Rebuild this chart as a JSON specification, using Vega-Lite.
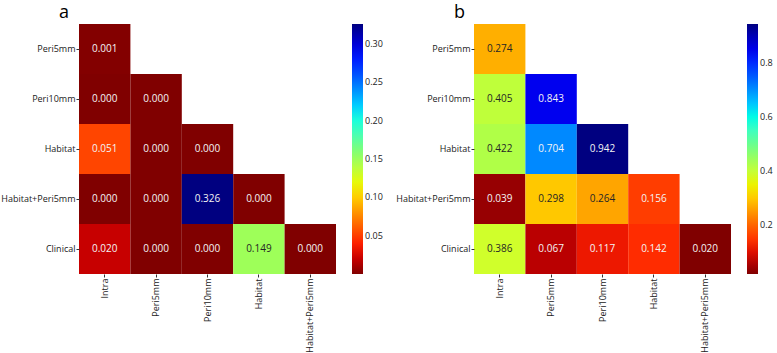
{
  "$schema": "https://vega.github.io/schema/vega-lite/v6.json",
  "padding": {"left": 0, "top": 4, "right": 0, "bottom": 0},
  "background": "white",
  "config": {
    "font": "Open Sans",
    "view": {"stroke": null},
    "axis": {"domain": false, "grid": false, "ticks": true, "tickSize": 3, "tickColor": "#333", "labelFontSize": 9, "labelColor": "#222", "labelPadding": 1, "title": null},
    "legend": {"gradientLength": 250, "gradientThickness": 11, "gradientStrokeWidth": 0, "labelFontSize": 9, "labelColor": "#222", "offset": 16, "padding": 0, "labelOffset": 5},
    "title": {"fontSize": 18, "fontWeight": "normal", "anchor": "start", "frame": "group", "dx": -20, "offset": 2, "color": "black"}
  },
  "datasets": {
    "a": [
      {"row": "Peri5mm", "col": "Intra", "value": 0.001},
      {"row": "Peri10mm", "col": "Intra", "value": 0.000},
      {"row": "Peri10mm", "col": "Peri5mm", "value": 0.000},
      {"row": "Habitat", "col": "Intra", "value": 0.051},
      {"row": "Habitat", "col": "Peri5mm", "value": 0.000},
      {"row": "Habitat", "col": "Peri10mm", "value": 0.000},
      {"row": "Habitat+Peri5mm", "col": "Intra", "value": 0.000},
      {"row": "Habitat+Peri5mm", "col": "Peri5mm", "value": 0.000},
      {"row": "Habitat+Peri5mm", "col": "Peri10mm", "value": 0.326},
      {"row": "Habitat+Peri5mm", "col": "Habitat", "value": 0.000},
      {"row": "Clinical", "col": "Intra", "value": 0.020},
      {"row": "Clinical", "col": "Peri5mm", "value": 0.000},
      {"row": "Clinical", "col": "Peri10mm", "value": 0.000},
      {"row": "Clinical", "col": "Habitat", "value": 0.149},
      {"row": "Clinical", "col": "Habitat+Peri5mm", "value": 0.000}
    ],
    "b": [
      {"row": "Peri5mm", "col": "Intra", "value": 0.274},
      {"row": "Peri10mm", "col": "Intra", "value": 0.405},
      {"row": "Peri10mm", "col": "Peri5mm", "value": 0.843},
      {"row": "Habitat", "col": "Intra", "value": 0.422},
      {"row": "Habitat", "col": "Peri5mm", "value": 0.704},
      {"row": "Habitat", "col": "Peri10mm", "value": 0.942},
      {"row": "Habitat+Peri5mm", "col": "Intra", "value": 0.039},
      {"row": "Habitat+Peri5mm", "col": "Peri5mm", "value": 0.298},
      {"row": "Habitat+Peri5mm", "col": "Peri10mm", "value": 0.264},
      {"row": "Habitat+Peri5mm", "col": "Habitat", "value": 0.156},
      {"row": "Clinical", "col": "Intra", "value": 0.386},
      {"row": "Clinical", "col": "Peri5mm", "value": 0.067},
      {"row": "Clinical", "col": "Peri10mm", "value": 0.117},
      {"row": "Clinical", "col": "Habitat", "value": 0.142},
      {"row": "Clinical", "col": "Habitat+Peri5mm", "value": 0.020}
    ]
  },
  "hconcat": [
    {
      "title": "a",
      "data": {"name": "a"},
      "width": 257,
      "height": 250,
      "encoding": {
        "x": {"field": "col", "type": "nominal", "scale": {"domain": ["Intra", "Peri5mm", "Peri10mm", "Habitat", "Habitat+Peri5mm"], "paddingInner": 0, "paddingOuter": 0}, "axis": {"labelAngle": -90, "labelAlign": "right", "labelBaseline": "middle"}},
        "y": {"field": "row", "type": "nominal", "scale": {"domain": ["Peri5mm", "Peri10mm", "Habitat", "Habitat+Peri5mm", "Clinical"], "paddingInner": 0, "paddingOuter": 0}}
      },
      "layer": [
        {
          "mark": {"type": "rect"},
          "encoding": {
            "color": {"field": "value", "type": "quantitative", "scale": {"domain": [0, 0.326], "range": ["#800000", "#c80000", "#ff2100", "#ff5c00", "#ff9700", "#ffd200", "#e2ff14", "#afff48", "#7bff7b", "#48ffb7", "#14ffe2", "#00bfff", "#0080ff", "#0040ff", "#0000ff", "#0000c8", "#000080"]}, "legend": {"title": null, "values": [0.05, 0.1, 0.15, 0.2, 0.25, 0.3], "format": ".2f"}}
          }
        },
        {
          "mark": {"type": "text", "fontSize": 10},
          "encoding": {
            "text": {"field": "value", "type": "quantitative", "format": ".3f"},
            "color": {"condition": {"test": "datum.value > 0.065 && datum.value < 0.21", "value": "#262626"}, "value": "#f4f4f4"}
          }
        }
      ]
    },
    {
      "title": "b",
      "data": {"name": "b"},
      "width": 257,
      "height": 250,
      "encoding": {
        "x": {"field": "col", "type": "nominal", "scale": {"domain": ["Intra", "Peri5mm", "Peri10mm", "Habitat", "Habitat+Peri5mm"], "paddingInner": 0, "paddingOuter": 0}, "axis": {"labelAngle": -90, "labelAlign": "right", "labelBaseline": "middle"}},
        "y": {"field": "row", "type": "nominal", "scale": {"domain": ["Peri5mm", "Peri10mm", "Habitat", "Habitat+Peri5mm", "Clinical"], "paddingInner": 0, "paddingOuter": 0}}
      },
      "layer": [
        {
          "mark": {"type": "rect"},
          "encoding": {
            "color": {"field": "value", "type": "quantitative", "scale": {"domain": [0.02, 0.942], "range": ["#800000", "#c80000", "#ff2100", "#ff5c00", "#ff9700", "#ffd200", "#e2ff14", "#afff48", "#7bff7b", "#48ffb7", "#14ffe2", "#00bfff", "#0080ff", "#0040ff", "#0000ff", "#0000c8", "#000080"]}, "legend": {"title": null, "values": [0.2, 0.4, 0.6, 0.8], "format": ".1f"}}
          }
        },
        {
          "mark": {"type": "text", "fontSize": 10},
          "encoding": {
            "text": {"field": "value", "type": "quantitative", "format": ".3f"},
            "color": {"condition": {"test": "datum.value > 0.2 && datum.value < 0.62", "value": "#262626"}, "value": "#f4f4f4"}
          }
        }
      ]
    }
  ],
  "resolve": {"scale": {"color": "independent"}, "legend": {"color": "independent"}},
  "spacing": 12
}
